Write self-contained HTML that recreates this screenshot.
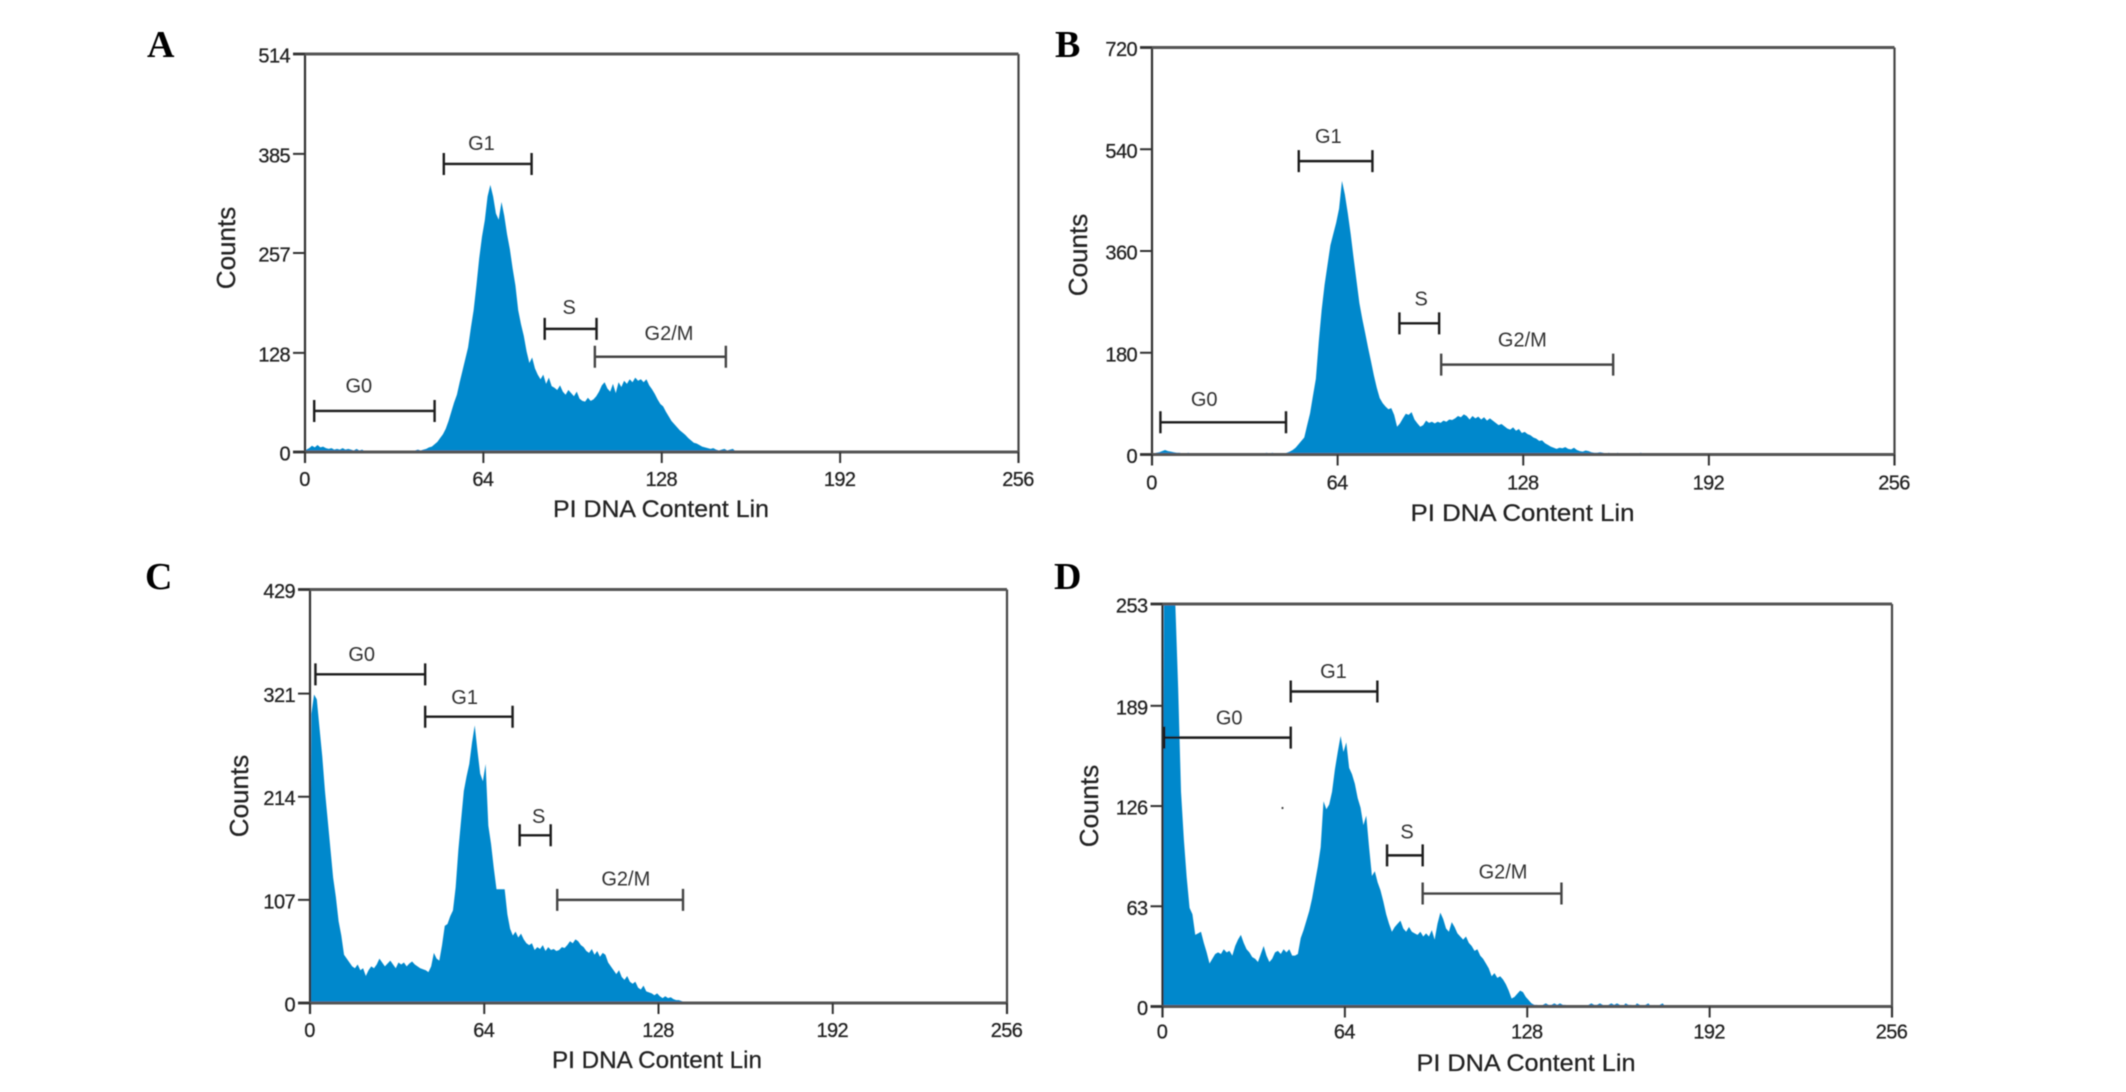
<!DOCTYPE html>
<html lang="en">
<head>
<meta charset="utf-8">
<title>PI DNA content histograms</title>
<style>
  html, body { margin: 0; padding: 0; background: #fff; }
  svg { display: block; }
  text { font-family: "Liberation Sans", sans-serif; fill: #222; stroke: #222; stroke-width: 0.25px; }
  .letter { font-family: "Liberation Serif", serif; font-weight: 700; font-size: 38px; fill: #000; stroke: none; }
  .xtitle { font-size: 24px; text-anchor: middle; }
  .ytitle { font-size: 26px; text-anchor: middle; }
  .tick { font-size: 20px; letter-spacing: -0.6px; }
  .gate-label { font-size: 20px; text-anchor: middle; fill: #333; stroke: none; }
</style>
</head>
<body>
<svg id="figure" xmlns="http://www.w3.org/2000/svg" width="2126" height="1092" viewBox="0 0 2126 1092">
  <defs>
    <filter id="soft" x="-2%" y="-2%" width="104%" height="104%"><feGaussianBlur stdDeviation="0.5"/></filter>
  </defs>
  <rect x="0" y="0" width="2126" height="1092" fill="#fff"/>
  <g id="root" filter="url(#soft)">
    <text class="letter" x="147" y="57">A</text>
    <text class="letter" x="1055" y="57">B</text>
    <text class="letter" x="145" y="589">C</text>
    <text class="letter" x="1054" y="589">D</text>

    <g id="panel-a"></g>
    <g id="panel-b"></g>
    <g id="panel-c"></g>
    <g id="panel-d"></g>

    <text class="xtitle" x="661" y="517" textLength="216" lengthAdjust="spacingAndGlyphs">PI  DNA Content Lin</text>
    <text class="xtitle" x="1522.5" y="521" textLength="224" lengthAdjust="spacingAndGlyphs">PI  DNA Content Lin</text>
    <text class="xtitle" x="657" y="1068" textLength="210" lengthAdjust="spacingAndGlyphs">PI  DNA Content Lin</text>
    <text class="xtitle" x="1526" y="1071" textLength="219" lengthAdjust="spacingAndGlyphs">PI  DNA Content Lin</text>

    <text class="ytitle" transform="translate(235 248) rotate(-90)">Counts</text>
    <text class="ytitle" transform="translate(1087 255) rotate(-90)">Counts</text>
    <text class="ytitle" transform="translate(248 796) rotate(-90)">Counts</text>
    <text class="ytitle" transform="translate(1098 806) rotate(-90)">Counts</text>
  </g>
</svg>
<script>
const xTickLabels = [0, 64, 128, 192, 256];

const yTicksA = [0, 128, 257, 385, 514];
const yTicksB = [0, 180, 360, 540, 720];
const yTicksC = [0, 107, 214, 321, 429];
const yTicksD = [0, 63, 126, 189, 253];

const countsA = [
  3,5,8,6,9,6,7,5,4,5,
  3,4,3,5,3,4,3,2,4,2,
  3,1,1,0,0,1,0,2,1,0,
  1,2,0,1,1,0,2,1,1,2,
  3,2,3,4,6,7,10,13,18,23,
  30,40,52,64,74,90,105,120,135,160,
  183,215,250,278,299,330,345,330,308,300,
  323,305,281,262,237,215,183,165,150,130,
  115,122,108,100,94,100,88,96,85,83,
  80,86,78,74,80,76,72,78,69,66,
  65,70,66,68,72,78,86,90,82,78,
  88,76,90,84,92,88,94,90,96,92,
  94,90,94,86,81,75,68,62,59,52,
  46,40,36,32,28,25,22,18,15,12,
  11,9,7,6,5,4,5,3,2,3,
  4,2,3,4,1,0,0,0,0,0,
  0,0,2,1,2,0
];
const countsB = [
  2,3,4,6,8,6,5,4,3,3,
  2,2,3,2,2,1,1,2,1,1,
  2,1,0,1,2,1,1,2,0,1,
  1,2,1,1,2,1,1,2,2,3,
  2,3,2,1,1,2,3,5,8,12,
  18,24,30,52,73,104,134,200,256,300,
  335,370,390,410,435,484,460,427,390,348,
  308,268,240,215,189,165,140,118,100,91,
  85,80,82,70,49,55,64,72,70,75,
  62,55,49,52,60,56,58,55,58,56,
  60,58,62,61,64,68,66,71,68,62,
  68,64,67,62,66,60,64,60,56,52,
  54,50,46,44,48,42,45,38,40,36,
  34,30,28,24,25,20,17,14,12,10,
  12,11,13,10,9,12,8,6,5,7,
  6,4,3,3,4,3,2,3,2,1,
  3,2,1,0,0,0,0,2,3,2,
  0,0,0,0,0,0,0,1,2,1,
  2,1,0,0,0,0,0,0,0,0,
  1,2,1
];
const countsC = [
  300,320,315,285,256,220,190,160,130,110,
  85,70,50,46,42,38,36,40,34,36,
  28,34,38,36,40,46,42,38,41,44,
  40,36,42,40,42,38,41,43,40,38,
  36,35,34,32,38,52,46,44,60,80,
  82,90,96,120,159,190,220,235,248,270,
  288,262,238,230,248,184,165,140,118,118,
  118,118,92,77,70,74,68,72,66,62,
  60,62,55,58,56,60,54,58,55,56,
  54,55,58,57,60,64,62,66,64,60,
  58,54,52,56,50,54,48,52,50,42,
  38,34,30,34,27,24,28,22,20,22,
  16,14,18,12,11,10,8,10,7,5,
  7,5,6,4,3,3,2,1,1,0,
  0,0,0,0,0,1,1,0
];
const countsD = [
  253,253,253,253,253,200,135,105,81,62,
  58,45,46,47,40,34,27,30,33,34,
  33,36,34,35,32,38,42,45,40,36,
  34,31,30,28,33,38,32,28,30,34,
  35,33,36,34,36,32,32,33,43,48,
  54,60,68,78,88,100,129,124,127,135,
  149,160,170,160,166,150,146,140,131,125,
  114,120,100,82,85,78,73,66,58,52,
  47,50,52,54,49,47,50,47,46,45,
  47,44,46,44,48,42,52,59,55,49,
  47,53,50,46,44,42,44,40,38,35,
  36,32,30,27,24,19,21,18,19,17,
  14,10,5,6,8,10,9,6,4,2,
  1,1,0,1,2,1,1,2,1,2,
  1,1,0,0,0,0,0,0,0,1,
  2,1,1,2,1,0,1,2,1,2,
  1,0,2,1,1,0,2,1,0,1,
  2,0,1,0,1,2,0,0,0,0
];

const gateNames = ['G0', 'G1', 'S', 'G2/M'];

const gateStartA = [3.3, 49.8, 86, 104];
const gateEndA = [46.5, 81.3, 104.6, 151];
const gateLevelA = [53, 372, 159, 123];
const gateLabelChannelA = [19.3, 63.3, 94.8, 130.6];
const gateLabelLevelA = [86, 399, 187, 154];

const gateStartB = [2.9, 50.6, 85.3, 99.7];
const gateEndB = [46.2, 76, 99, 159];
const gateLevelB = [57, 519, 232, 159];
const gateLabelChannelB = [18, 60.8, 92.8, 127.7];
const gateLabelLevelB = [98, 563, 276, 203];

const gateStartC = [2, 42.3, 77, 90.8];
const gateEndC = [42.3, 74.4, 88.4, 137];
const gateLevelC = [341, 297, 174, 107];
const gateLabelChannelC = [19, 56.8, 84, 116];
const gateLabelLevelC = [362, 317.5, 194, 129];

const gateStartD = [0.6, 45, 78.8, 91.3];
const gateEndD = [45, 75.4, 91.3, 140];
const gateLevelD = [169, 198, 95, 71];
const gateLabelChannelD = [23.4, 60, 85.8, 119.5];
const gateLabelLevelD = [181.6, 211, 110, 85];

const NS = 'http://www.w3.org/2000/svg';
const CHANNEL_MAX = 256;
const BAR_BLUE = '#0088cc';

function make(tag, parent, attrs, content) {
  const el = document.createElementNS(NS, tag);
  Object.keys(attrs).forEach(function (k) { el.setAttribute(k, attrs[k]); });
  if (content !== undefined) el.textContent = content;
  parent.appendChild(el);
  return el;
}

function drawPanel(id, box, counts, yTicks, starts, ends, levels, labelChannels, labelLevels) {
  const g = document.getElementById(id);
  const yMax = yTicks[yTicks.length - 1];
  const sx = function (v) { return box.left + (v / CHANNEL_MAX) * (box.right - box.left); };
  const sy = function (v) { return box.bottom - (v / yMax) * (box.bottom - box.top); };

  let d = 'M' + sx(0) + ' ' + sy(0);
  counts.forEach(function (c, i) {
    d += 'L' + sx(i + 0.5).toFixed(2) + ' ' + sy(c).toFixed(2);
  });
  d += 'L' + sx(counts.length) + ' ' + sy(0) + 'Z';
  const area = make('path', g, { d: d, fill: BAR_BLUE });
  
  

  const left = make('line', g, { x1: sx(0), x2: sx(0), y1: sy(yMax), y2: sy(0) + box.tick, stroke: '#333', 'stroke-width': 2.2 });
  
  

  const right = make('line', g, { x1: sx(CHANNEL_MAX), x2: sx(CHANNEL_MAX), y1: sy(yMax), y2: sy(0) + box.tick, stroke: '#444', 'stroke-width': 2.2 });
  
  

  const top = make('line', g, { x1: sx(0) - 12, x2: sx(CHANNEL_MAX), y1: sy(yMax), y2: sy(yMax), stroke: '#555', 'stroke-width': 3 });
  
  

  const base = make('line', g, { x1: sx(0) - 12, x2: sx(CHANNEL_MAX), y1: sy(0), y2: sy(0), stroke: '#555', 'stroke-width': 3 });
  
  

  xTickLabels.forEach(function (t) {
    const mark = make('line', g, { x1: sx(t), x2: sx(t), y1: sy(0), y2: sy(0) + box.tick, stroke: '#333', 'stroke-width': 2 });
    
    
    const label = make('text', g, { class: 'tick', x: sx(t) - 0.5, y: sy(0) + box.xLabel, 'text-anchor': 'middle' }, String(t));
    
    
  });

  yTicks.forEach(function (t) {
    const mark = make('line', g, { x1: sx(0) - 12, x2: sx(0), y1: sy(t), y2: sy(t), stroke: '#333', 'stroke-width': 2 });
    
    
    const label = make('text', g, { class: 'tick', x: sx(0) - 15, y: sy(t) + 8.5, 'text-anchor': 'end' }, String(t));
    
    
  });

  gateNames.forEach(function (name, i) {
    const x1 = sx(starts[i]), x2 = sx(ends[i]), y = sy(levels[i]);
    const slug = name.toLowerCase().replace('/', '');
    const gate = make('path', g, {
      d: 'M' + x1 + ' ' + (y - 11) + 'V' + (y + 11) + 'M' + x1 + ' ' + y + 'H' + x2 + 'M' + x2 + ' ' + (y - 11) + 'V' + (y + 11),
      stroke: i === 3 ? '#444' : '#1c1c1c', 'stroke-width': 2.4, fill: 'none'
    });
    
    
    const label = make('text', g, { class: 'gate-label', x: sx(labelChannels[i]), y: sy(labelLevels[i]) + 7 }, name);
    
    
  });
}

drawPanel('panel-a', { left: 305, right: 1018.5, top: 54, bottom: 452, tick: 11, xLabel: 34 }, countsA, yTicksA, gateStartA, gateEndA, gateLevelA, gateLabelChannelA, gateLabelLevelA);
drawPanel('panel-b', { left: 1152, right: 1894.5, top: 47.5, bottom: 454.5, tick: 11, xLabel: 35 }, countsB, yTicksB, gateStartB, gateEndB, gateLevelB, gateLabelChannelB, gateLabelLevelB);
drawPanel('panel-c', { left: 310, right: 1007, top: 589.5, bottom: 1003, tick: 11, xLabel: 34 }, countsC, yTicksC, gateStartC, gateEndC, gateLevelC, gateLabelChannelC, gateLabelLevelC);
drawPanel('panel-d', { left: 1162.5, right: 1892, top: 604, bottom: 1006.5, tick: 11, xLabel: 32 }, countsD, yTicksD, gateStartD, gateEndD, gateLevelD, gateLabelChannelD, gateLabelLevelD);

const speck = make('circle', document.getElementById('panel-d'), { cx: 1282.5, cy: 808, r: 1.1, fill: '#444' });


</script>
</body>
</html>
